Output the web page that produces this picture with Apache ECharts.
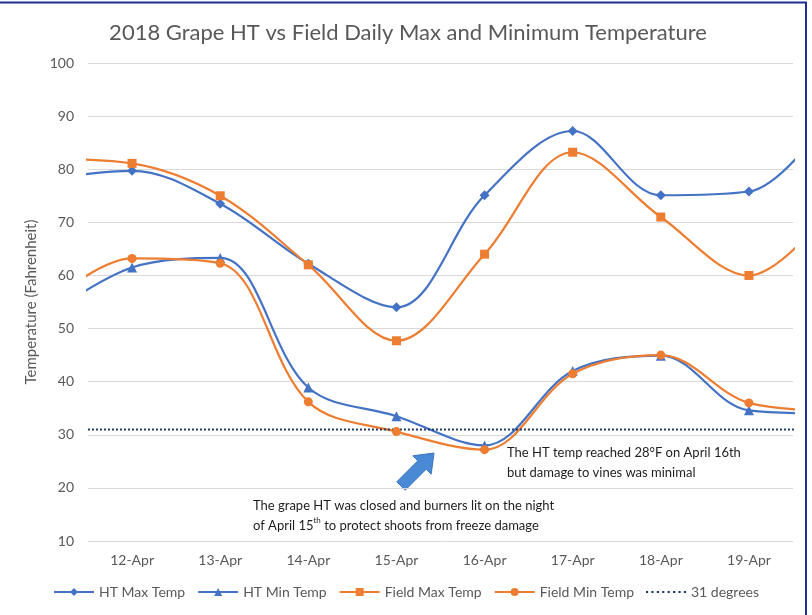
<!DOCTYPE html>
<html lang="en">
<head>
    <meta charset="UTF-8">
    <title>2018 Grape HT vs Field Daily Max and Minimum Temperature</title>
    <script src="https://cdn.jsdelivr.net/npm/echarts@6/dist/echarts.min.js"></script>
    <style>
        html, body { margin: 0; padding: 0; background: #fff; }
        #chart { width: 812px; height: 615px; }
    </style>
</head>
<body>
    <div id="chart"></div>
    <script>
        // days incl. the ones just outside the plot (lines run off the edges)
        var days = ['11-Apr', '12-Apr', '13-Apr', '14-Apr', '15-Apr', '16-Apr', '17-Apr', '18-Apr', '19-Apr', '20-Apr']
        var shownDays = ['12-Apr', '13-Apr', '14-Apr', '15-Apr', '16-Apr', '17-Apr', '18-Apr', '19-Apr']
        var htMax = [78, 79.7, 73.5, 62.2, 54, 75.1, 87.2, 75.1, 75.8, 92]
        var htMin = [52, 61.5, 63.3, 38.9, 33.5, 28, 42, 44.9, 34.6, 34]
        var fieldMax = [82, 81.1, 75, 62, 47.7, 64, 83.2, 71, 60, 74]
        var fieldMin = [54, 63.2, 62.3, 36.2, 30.6, 27.2, 41.5, 45, 36, 34.5]
        var freeze = [31, 31, 31, 31, 31, 31, 31, 31, 31, 31]

        var BLUE = '#4472C4'
        var ORANGE = '#ED7D31'
        var GREY = '#595959'
        var FONT = 'Lato'

        // dotted legend swatch for the 31 degrees line
        var DOTS = 'path://M0,0h2v2h-2zM5,0h2v2h-2zM10,0h2v2h-2zM15,0h2v2h-2zM20,0h2v2h-2zM25,0h2v2h-2zM30,0h2v2h-2zM35,0h2v2h-2z'

        function pts(arr) {
            return arr.map((v, i) => [i, v])
        }

        function lineSeries(name, arr, color, symbol, size) {
            return {
                name: name,
                type: 'line',
                xAxisIndex: 1,
                smooth: 0.35,
                clip: true,
                data: pts(arr),
                symbol: symbol,
                symbolSize: size,
                showAllSymbol: true,
                itemStyle: { color: color },
                lineStyle: { color: color, width: 2.2 },
                emphasis: { disabled: true }
            }
        }

        var chart = echarts.init(document.getElementById('chart'))
        var option = {
            backgroundColor: '#fff',
            animation: false,
            title: {
                text: '2018 Grape HT vs Field Daily Max and Minimum Temperature',
                left: 403,
                textAlign: 'center',
                top: 17,
                textStyle: { fontFamily: FONT, fontSize: 22, fontWeight: 'normal', color: GREY }
            },
            grid: { left: 88, right: 19, top: 63, bottom: 74 },
            legend: {
                bottom: 11,
                left: 'center',
                itemWidth: 40,
                itemHeight: 10,
                itemGap: 12,
                textStyle: { fontFamily: FONT, fontSize: 14, color: GREY },
                data: ['HT Max Temp', 'HT Min Temp', 'Field Max Temp', 'Field Min Temp', { name: '31 degrees', icon: DOTS }]
            },
            xAxis: [{
                type: 'category',
                data: shownDays,
                boundaryGap: true,
                axisLine: { show: false },
                axisTick: { show: false },
                axisLabel: { fontFamily: FONT, fontSize: 14, color: GREY, margin: 12 }
            }, {
                type: 'value',
                min: 0.5,
                max: 8.5,
                show: false
            }],
            yAxis: {
                type: 'value',
                min: 10,
                max: 100,
                interval: 10,
                name: 'Temperature (Fahrenheit)',
                nameLocation: 'middle',
                nameGap: 46,
                nameTextStyle: { fontFamily: FONT, fontSize: 15, color: GREY },
                axisLine: { show: false },
                axisTick: { show: false },
                axisLabel: { fontFamily: FONT, fontSize: 14, color: GREY, margin: 14 },
                splitLine: { lineStyle: { color: '#D9D9D9', width: 1 } }
            },
            series: [
                lineSeries('HT Max Temp', htMax, BLUE, 'diamond', 10),
                lineSeries('HT Min Temp', htMin, BLUE, 'triangle', 10),
                lineSeries('Field Max Temp', fieldMax, ORANGE, 'rect', 9),
                lineSeries('Field Min Temp', fieldMin, ORANGE, 'circle', 9),
                {
                    name: '31 degrees',
                    type: 'line',
                    xAxisIndex: 1,
                    data: pts(freeze),
                    symbol: 'none',
                    itemStyle: { color: '#203864' },
                    lineStyle: { color: '#203864', width: 2, type: [2, 2] },
                    emphasis: { disabled: true }
                }
            ],
            graphic: [
                {
                    type: 'rect',
                    shape: { x: -5, y: 2.5, width: 811, height: 620 },
                    style: { fill: 'none', stroke: '#1F2D96', lineWidth: 2 },
                    silent: true
                },
                {
                    type: 'polygon',
                    shape: {
                        points: [[396.8, 481.8], [417.8, 460.8], [412.8, 455.8], [434, 453], [431.2, 474.2], [426.2, 469.2], [405.2, 490.2]]
                    },
                    style: { fill: '#4A89D6', stroke: '#3D76BC', lineWidth: 1 },
                    silent: true
                },
                {
                    type: 'text',
                    left: 253,
                    top: 496,
                    style: {
                        text: 'The grape HT was closed and burners lit on the night\nof April 15{sup|th} to protect shoots from freeze damage',
                        fontFamily: FONT,
                        fontSize: 13,
                        lineHeight: 20,
                        fill: '#1E1E1E',
                        rich: {
                            sup: { fontFamily: FONT, fontSize: 8, fill: '#1E1E1E', verticalAlign: 'top', lineHeight: 20, padding: [0, 0, 8, 0] }
                        }
                    },
                    silent: true
                },
                {
                    type: 'text',
                    left: 507,
                    top: 443,
                    style: {
                        text: 'The HT temp reached 28°F on April 16th\nbut damage to vines was minimal',
                        fontFamily: FONT,
                        fontSize: 13,
                        lineHeight: 20,
                        fill: '#1E1E1E'
                    },
                    silent: true
                }
            ]
        }
        chart.setOption(option)
    </script>
</body>
</html>
